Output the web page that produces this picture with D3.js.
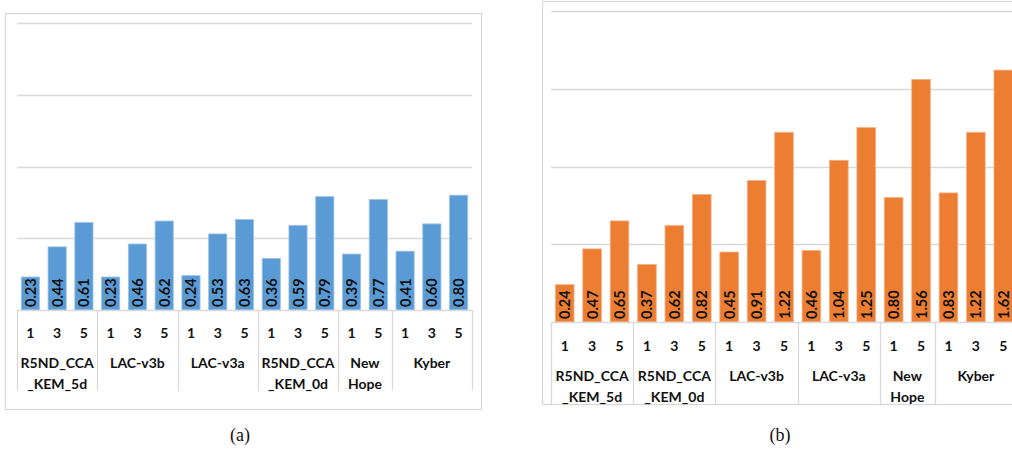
<!DOCTYPE html>
<html>
<head>
<meta charset="utf-8">
<script src="https://cdn.jsdelivr.net/npm/d3@7"></script>
<style>
  html, body { margin: 0; padding: 0; background: #fff; }
  svg { display: block; }
</style>
</head>
<body>
<svg id="chart" width="1012" height="450"></svg>
<script>
// ---- Data ----
const groupsA = ["R5ND_CCA\n_KEM_5d", "LAC-v3b", "LAC-v3a", "R5ND_CCA\n_KEM_0d", "New\nHope", "Kyber"];
const levelsA = [[1, 3, 5], [1, 3, 5], [1, 3, 5], [1, 3, 5], [1, 5], [1, 3, 5]];
const valuesA = [0.23, 0.44, 0.61, 0.23, 0.46, 0.62, 0.24, 0.53, 0.63, 0.36, 0.59, 0.79, 0.39, 0.77, 0.41, 0.60, 0.80];

const groupsB = ["R5ND_CCA\n_KEM_5d", "R5ND_CCA\n_KEM_0d", "LAC-v3b", "LAC-v3a", "New\nHope", "Kyber"];
const levelsB = [[1, 3, 5], [1, 3, 5], [1, 3, 5], [1, 3, 5], [1, 5], [1, 3, 5]];
const valuesB = [0.24, 0.47, 0.65, 0.37, 0.62, 0.82, 0.45, 0.91, 1.22, 0.46, 1.04, 1.25, 0.80, 1.56, 0.83, 1.22, 1.62];

const gridTicks = [0.5, 1.0, 1.5, 2.0];
const captions = ["(a)", "(b)"];

const svg = d3.select("#chart");
const FONT = "Lato, 'Open Sans', sans-serif";
const GRID = "#d9d9d9";

function panel(cfg) {
  const g = svg.append("g");
  // outer chart border
  g.append("rect")
    .attr("x", cfg.box[0] + 0.5).attr("y", cfg.box[1] + 0.5)
    .attr("width", cfg.box[2]).attr("height", cfg.box[3])
    .attr("fill", "none").attr("stroke", GRID).attr("stroke-width", 1.3);

  const n = cfg.values.length;
  const x = d3.scaleBand().domain(d3.range(n)).range([cfg.x0, cfg.x1])
    .paddingInner(0.32).paddingOuter(0.16);
  const y = d3.scaleLinear().domain([0, 2]).range([cfg.base, cfg.top]);

  // gridlines
  g.selectAll("line.grid").data(gridTicks).join("line")
    .attr("x1", cfg.x0).attr("x2", cfg.gridEnd)
    .attr("y1", d => Math.round(y(d)) + 0.5).attr("y2", d => Math.round(y(d)) + 0.5)
    .attr("stroke", GRID).attr("stroke-width", 1.3);

  // bars
  g.selectAll("rect.bar").data(cfg.values).join("rect")
    .attr("x", (d, i) => x(i)).attr("width", x.bandwidth())
    .attr("y", d => y(d)).attr("height", d => y(0) - y(d))
    .attr("fill", cfg.color).attr("stroke", cfg.edge).attr("stroke-width", 0.8);

  // value labels
  g.selectAll("text.val").data(cfg.values).join("text")
    .attr("transform", (d, i) => `translate(${x(i) + x.bandwidth() / 2},${y(0) - 3}) rotate(-90)`)
    .attr("text-anchor", "start").attr("dominant-baseline", "central")
    .attr("font-family", FONT).attr("font-weight", "bold").attr("font-size", 14.5)
    .attr("fill", "#111").text(d => d.toFixed(2));

  // baseline axis
  g.append("line").attr("x1", cfg.x0).attr("x2", cfg.gridEnd)
    .attr("y1", Math.round(y(0)) + 0.5).attr("y2", Math.round(y(0)) + 0.5)
    .attr("stroke", GRID).attr("stroke-width", 1.3);

  // category axis
  let idx = 0;
  const step = x.step();
  const dividers = [];
  cfg.groups.forEach((name, gi) => {
    const lv = cfg.levels[gi];
    const start = idx;
    dividers.push(cfg.x0 + start * step);
    lv.forEach((l, k) => {
      g.append("text")
        .attr("x", x(idx + k) + x.bandwidth() / 2).attr("y", cfg.lvlY)
        .attr("text-anchor", "middle").attr("dominant-baseline", "central")
        .attr("font-family", FONT).attr("font-weight", "bold").attr("font-size", 14)
        .attr("fill", "#111").text(l);
    });
    idx += lv.length;
    const cx = cfg.x0 + (start + lv.length / 2) * step;
    name.split("\n").forEach((line, li) => {
      g.append("text")
        .attr("x", cx).attr("y", cfg.nameY + li * cfg.lineH)
        .attr("text-anchor", "middle").attr("dominant-baseline", "central")
        .attr("font-family", FONT).attr("font-weight", "bold").attr("font-size", 14)
        .attr("fill", "#111").text(line);
    });
  });
  dividers.push(cfg.x0 + idx * step);
  g.selectAll("line.div").data(dividers).join("line")
    .attr("x1", d => Math.round(d) + 0.5).attr("x2", d => Math.round(d) + 0.5)
    .attr("y1", y(0)).attr("y2", cfg.divEnd)
    .attr("stroke", GRID).attr("stroke-width", 1.3);

  // caption
  svg.append("text").attr("x", cfg.capX).attr("y", 435)
    .attr("text-anchor", "middle").attr("dominant-baseline", "central")
    .attr("font-family", "'Liberation Serif', 'DejaVu Serif', serif").attr("font-size", 18)
    .attr("fill", "#111").text(cfg.caption);
}

panel({
  box: [5, 13, 476, 396], x0: 17, x1: 472, gridEnd: 472, top: 23, base: 310,
  values: valuesA, groups: groupsA, levels: levelsA,
  color: "#5b9bd5", edge: "#9cc3e6",
  lvlY: 332, nameY: 362, lineH: 21, divEnd: 391, capX: 240, caption: captions[0]
});

panel({
  box: [542, 1, 480, 403], x0: 551, x1: 1017, gridEnd: 1030, top: 11, base: 322,
  values: valuesB, groups: groupsB, levels: levelsB,
  color: "#ed7d31", edge: "#f4b183",
  lvlY: 345, nameY: 375, lineH: 21, divEnd: 404, capX: 780, caption: captions[1]
});
</script>
</body>
</html>
